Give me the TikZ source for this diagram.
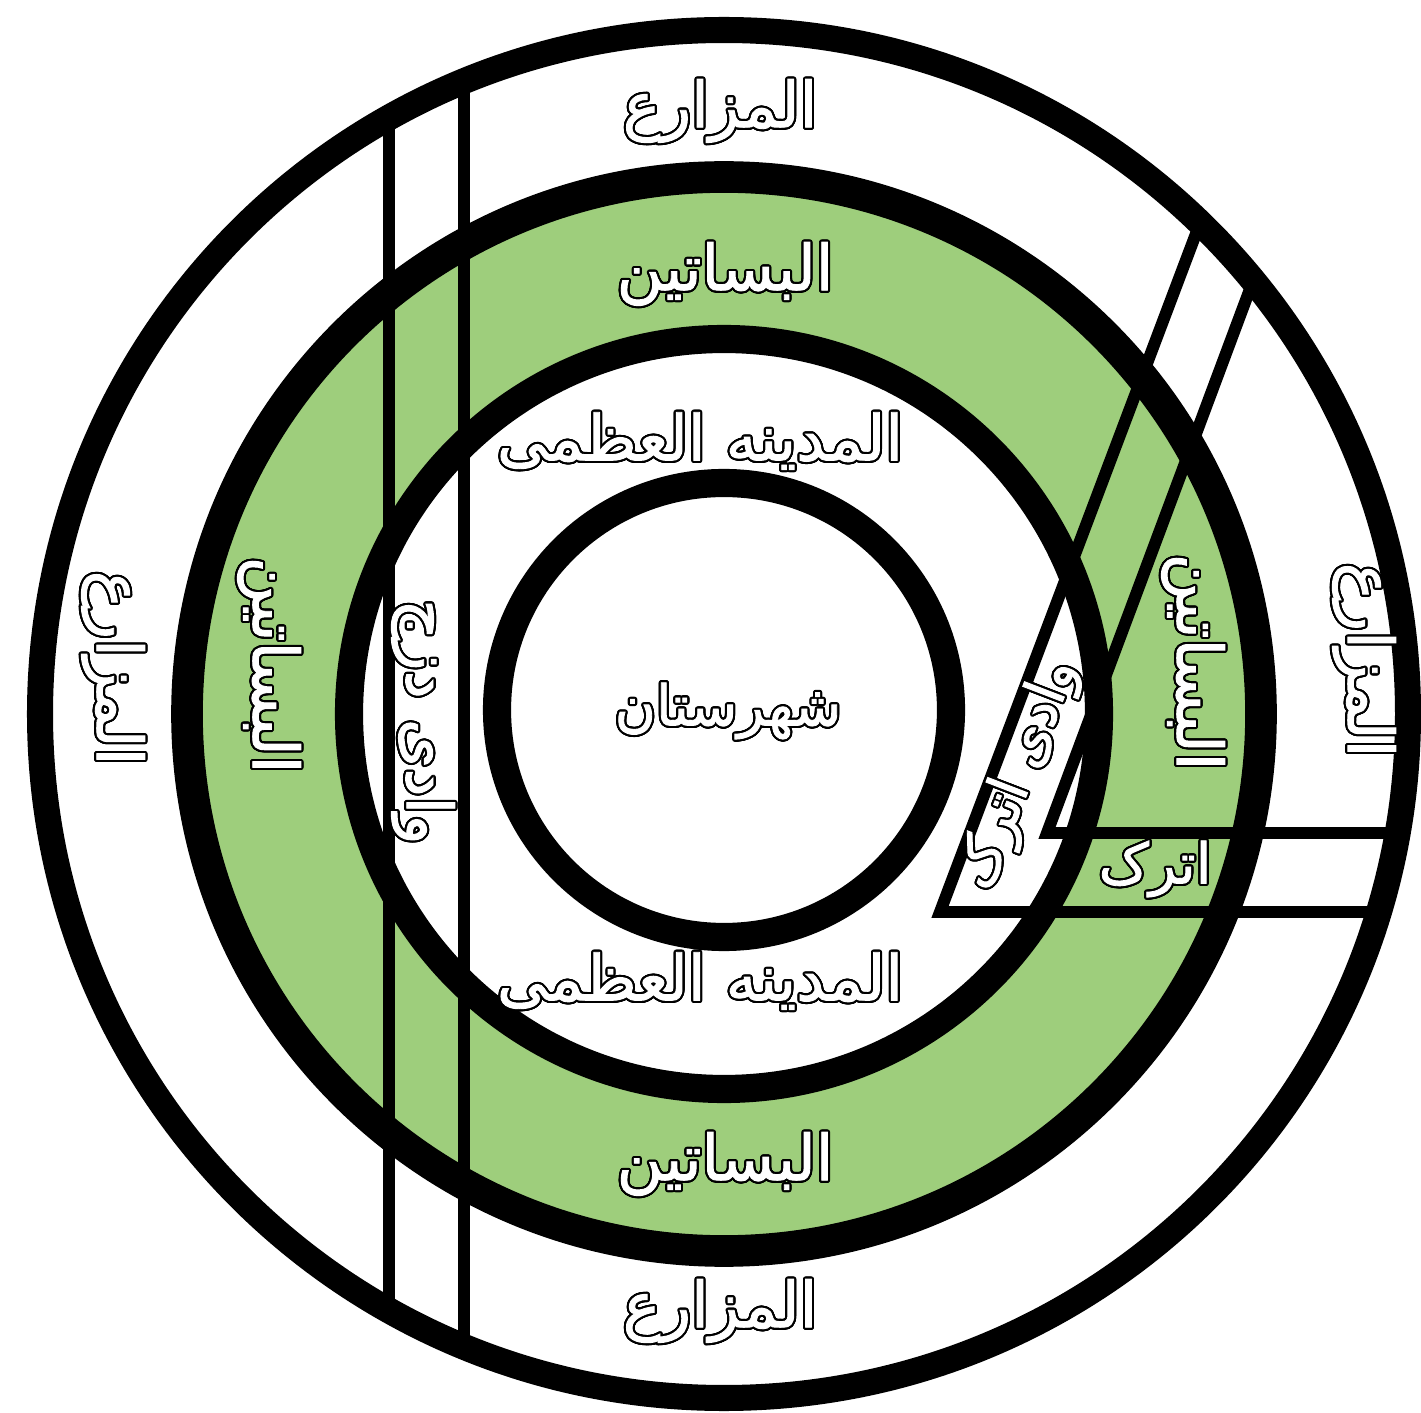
\documentclass[tikz,border=0pt]{standalone}
\usepackage{fontspec}
\usepackage{xcolor}
\usepackage{contour}
\usepackage{tikz}
\usetikzlibrary{calc}
\TeXXeTstate=1
\newfontfamily\arabicfont[Script=Arabic,FakeBold=1.5]{DejaVu Sans}
\definecolor{gardengreen}{HTML}{9ECE7C}
\contourlength{0.6pt}
\contournumber{24}
\newcommand{\artxt}[1]{\contour{black}{\arabicfont\beginR #1\endR}}

\begin{document}
\begin{tikzpicture}[x=0.01cm,y=0.01cm,
			ring/.style={draw=black,line width=#1},
			wadi/.style={draw=black,line width=3.4pt,line join=miter},
			lbl/.style={text=white,font=\fontsize{18}{22}\selectfont,inner sep=0pt},
			small/.style={font=\fontsize{16}{19}\selectfont}
			]
			\useasboundingbox (0,0) rectangle (1421,-1413);
			\fill[white] (0,0) rectangle (1421,-1413);
			\coordinate (c) at (724,-714);
			\coordinate (ci) at (724,-710);
			\fill[gardengreen,even odd rule] (c) circle[radius=537] (c) circle[radius=375];
			\draw[wadi] (389,-118) -- (389,-1310);
			\draw[wadi] (464,-81) -- (464,-1347);
			\draw[wadi] (1200,-223) -- (940,-912) -- (1379,-912);
			\draw[wadi] (1253,-281) -- (1047,-833) -- (1398,-833);
			\draw[ring=7.4pt] (c) circle[radius=684];
			\draw[ring=9pt] (c) circle[radius=537];
			\draw[ring=8pt] (c) circle[radius=375];
			\draw[ring=8pt] (ci) circle[radius=227];
			\node[lbl] (farmN) at (720,-112) {\artxt{المزارع}};
			\node[lbl] (farmS) at (720,-1312) {\artxt{المزارع}};
			\node[lbl,rotate=-90] (farmW) at (112,-668) {\artxt{المزارع}};
			\node[lbl,rotate=-90] (farmE) at (1363,-660) {\artxt{المزارع}};
			\node[lbl] (gardN) at (725,-275) {\artxt{البساتین}};
			\node[lbl] (gardS) at (725,-1165) {\artxt{البساتین}};
			\node[lbl,rotate=-90] (gardW) at (268,-665) {\artxt{البساتین}};
			\node[lbl,rotate=-90] (gardE) at (1192,-662) {\artxt{البساتین}};
			\node[lbl] (cityN) at (700,-442) {\artxt{المدينه العظمی}};
			\node[lbl] (cityS) at (700,-982) {\artxt{المدينه العظمی}};
			\node[lbl,small] (shahr) at (728,-712) {\artxt{شهرستان}};
			\node[lbl,rotate=-90] (wadiW) at (422,-722) {\artxt{وادی دزج}};
			\node[lbl,small,rotate=69] (wadiE) at (1020,-775) {\artxt{وادی اترک}};
			\node[lbl,small] (atrak) at (1155,-870) {\artxt{اترک}};
		\end{tikzpicture}
\end{document}
